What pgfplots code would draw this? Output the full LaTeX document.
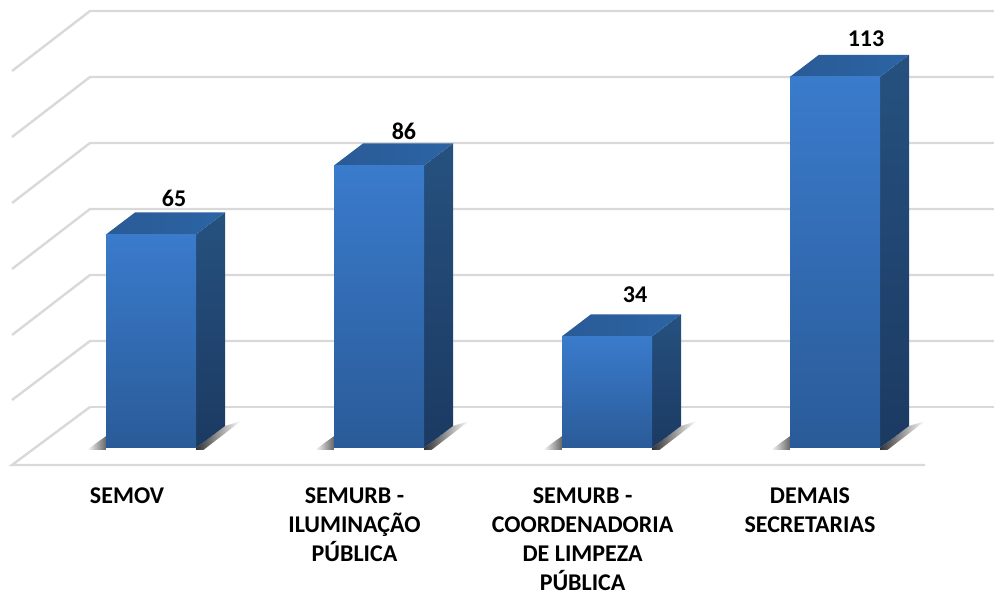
\documentclass[border=0pt]{standalone}
\usepackage{fontspec}
\setmainfont{Carlito}
\usepackage{pgfplots}
\pgfplotsset{compat=1.18}
\definecolor{gridc}{HTML}{D9D9D9}
\definecolor{ftop}{HTML}{3A7BCC}
\definecolor{fbot}{HTML}{2A5B98}
\definecolor{stop}{HTML}{26517F}
\definecolor{sbot}{HTML}{1B3A62}
\definecolor{tleft}{HTML}{295B96}
\definecolor{tright}{HTML}{2C64A4}
\pgfplotsset{base/.style={width=994pt,height=591pt,scale only axis,at={(0,0)},anchor=south west,hide axis,clip=false},
 shl/.style={draw=none,left color=white,right color=black!60},
 shr/.style={draw=none,left color=black!80,middle color=black!62,right color=white},
 side/.style={draw=none,top color=stop,bottom color=sbot},
 topf/.style={draw=none,left color=tleft,right color=tright},
 front/.style={ybar,bar width=90pt,bar shift=0pt,draw=none,top color=ftop,bottom color=fbot}}
\begin{document}
\begin{tikzpicture}[x=1pt,y=1pt]
\path[use as bounding box] (0,0) rectangle (994,591);
% wall and floor, reference pixels
\begin{axis}[base,xmin=0,xmax=994,ymin=0,ymax=591,y dir=reverse]
\addplot[gridc,line width=2.4pt] coordinates {(12,71)(90,11)(994,11)};
\addplot[gridc,line width=2.4pt] coordinates {(12,137)(90,77)(994,77)};
\addplot[gridc,line width=2.4pt] coordinates {(12,203)(90,143)(994,143)};
\addplot[gridc,line width=2.4pt] coordinates {(12,269)(90,209)(994,209)};
\addplot[gridc,line width=2.4pt] coordinates {(12,335)(90,275)(994,275)};
\addplot[gridc,line width=2.4pt] coordinates {(12,400)(90,341)(994,341)};
\addplot[gridc,line width=2.4pt] coordinates {(90,407)(994,407)};
\addplot[gridc,line width=2.4pt] coordinates {(925,465)(12,465)(90,407)};
\end{axis}
\begin{axis}[base,xmin=-0.6623,xmax=3.6974,ymin=-43.53,ymax=136.38]
% shadows
\addplot[shl] coordinates {(-0.2810,-0.6)(-0.1974,-0.6)(-0.1974,3.6)(-0.2300,2.0)} --cycle;
\addplot[shl] coordinates {(0.7190,-0.6)(0.8026,-0.6)(0.8026,3.6)(0.7700,2.0)} --cycle;
\addplot[shl] coordinates {(1.7190,-0.6)(1.8026,-0.6)(1.8026,3.6)(1.7700,2.0)} --cycle;
\addplot[shl] coordinates {(2.7190,-0.6)(2.8026,-0.6)(2.8026,3.6)(2.7700,2.0)} --cycle;
\addplot[shr] coordinates {(0.1974,0)(0.3246,6.7)(0.3946,8.2)(0.2300,-0.6)(0.1974,-0.6)} --cycle;
\addplot[shr] coordinates {(1.1974,0)(1.3246,6.7)(1.3946,8.2)(1.2300,-0.6)(1.1974,-0.6)} --cycle;
\addplot[shr] coordinates {(2.1974,0)(2.3246,6.7)(2.3946,8.2)(2.2300,-0.6)(2.1974,-0.6)} --cycle;
\addplot[shr] coordinates {(3.1974,0)(3.3246,6.7)(3.3946,8.2)(3.2300,-0.6)(3.1974,-0.6)} --cycle;
% side faces
\addplot[side] coordinates {(0.1974,0)(0.3246,6.7)(0.3246,71.7)(0.1974,65)} --cycle;
\addplot[side] coordinates {(1.1974,0)(1.3246,6.7)(1.3246,92.7)(1.1974,86)} --cycle;
\addplot[side] coordinates {(2.1974,0)(2.3246,6.7)(2.3246,40.7)(2.1974,34)} --cycle;
\addplot[side] coordinates {(3.1974,0)(3.3246,6.7)(3.3246,119.7)(3.1974,113)} --cycle;
% top faces
\addplot[topf] coordinates {(-0.1974,65)(-0.0702,71.7)(0.3246,71.7)(0.1974,65)} --cycle;
\addplot[topf] coordinates {(0.8026,86)(0.9298,92.7)(1.3246,92.7)(1.1974,86)} --cycle;
\addplot[topf] coordinates {(1.8026,34)(1.9298,40.7)(2.3246,40.7)(2.1974,34)} --cycle;
\addplot[topf] coordinates {(2.8026,113)(2.9298,119.7)(3.3246,119.7)(3.1974,113)} --cycle;
% front faces
\addplot[front] coordinates {(0,65)};
\addplot[front] coordinates {(1,86)};
\addplot[front] coordinates {(2,34)};
\addplot[front] coordinates {(3,113)};
% value labels
\addplot[draw=none,mark=none,nodes near coords,point meta=explicit symbolic,
  every node near coord/.append style={font=\fontsize{24}{28}\selectfont\bfseries,text=black,anchor=center,inner sep=0pt}]
  table[meta=label] {
x y label
0.1009 76.0 65
1.1096 96.4 86
2.1228 46.6 34
3.1360 124.5 113
};
\tikzset{lab/.style={anchor=north,align=center,font=\fontsize{24}{29.2}\selectfont\bfseries,inner sep=0pt}}
\node[lab] at (axis cs:-0.1053,-12.0) {SEMOV};
\node[lab] at (axis cs:0.8925,-12.0) {SEMURB -\\ILUMINAÇÃO\\PÚBLICA};
\node[lab] at (axis cs:1.8930,-12.0) {SEMURB -\\COORDENADORIA\\DE LIMPEZA\\PÚBLICA};
\node[lab] at (axis cs:2.8904,-12.0) {DEMAIS\\SECRETARIAS};
\end{axis}
\end{tikzpicture}
\end{document}
